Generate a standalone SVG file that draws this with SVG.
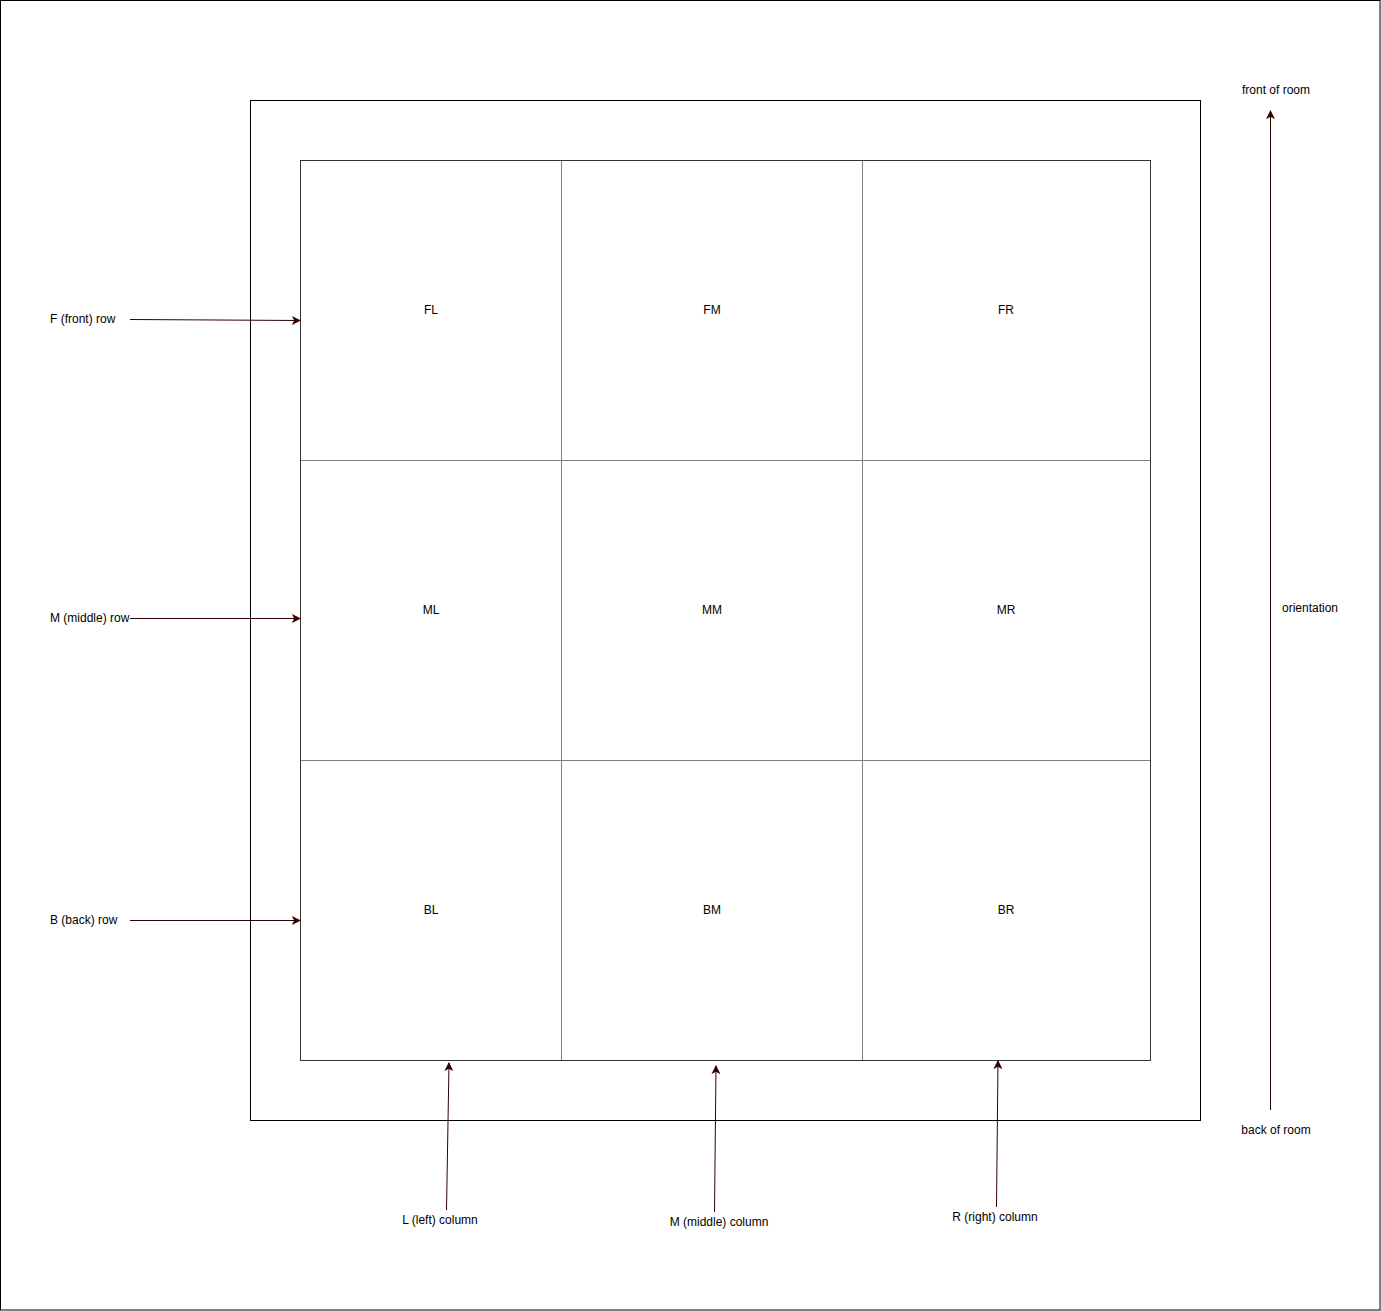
<svg xmlns="http://www.w3.org/2000/svg" width="1381" height="1311" viewBox="0 0 1381 1311">
<style>
text{font-family:"Liberation Sans",Arial,sans-serif;font-size:12px;fill:#000}
.c{text-anchor:middle}
.cell{fill:none;stroke:#808080;stroke-width:1}
.conn{stroke:#330000;stroke-width:1;fill:none;marker-end:url(#ah)}
</style>
<defs>
<marker id="ah" viewBox="0 0 10 10" refX="9" refY="5" markerWidth="9" markerHeight="9" markerUnits="userSpaceOnUse" orient="auto">
<path d="M0,0 L10,5 L0,10 L2.5,5 Z" fill="#330000"/>
</marker>
</defs>
<rect x="0" y="0" width="1381" height="1311" fill="#fff"/>
<rect id="frame" x="0.5" y="0.5" width="1379.5" height="1309.5" fill="none" stroke="#000"/>
<rect id="room" x="250.5" y="100.5" width="950" height="1020" fill="none" stroke="#000"/>
<g id="cells">
<g id="FL"><rect class="cell" x="300.5" y="160.5" width="261" height="300"/><text class="c" x="431" y="314">FL</text></g>
<g id="FM"><rect class="cell" x="561.5" y="160.5" width="301" height="300"/><text class="c" x="712" y="314">FM</text></g>
<g id="FR"><rect class="cell" x="862.5" y="160.5" width="288" height="300"/><text class="c" x="1006" y="314">FR</text></g>
<g id="ML"><rect class="cell" x="300.5" y="460.5" width="261" height="300"/><text class="c" x="431" y="614">ML</text></g>
<g id="MM"><rect class="cell" x="561.5" y="460.5" width="301" height="300"/><text class="c" x="712" y="614">MM</text></g>
<g id="MR"><rect class="cell" x="862.5" y="460.5" width="288" height="300"/><text class="c" x="1006" y="614">MR</text></g>
<g id="BL"><rect class="cell" x="300.5" y="760.5" width="261" height="300"/><text class="c" x="431" y="914">BL</text></g>
<g id="BM"><rect class="cell" x="561.5" y="760.5" width="301" height="300"/><text class="c" x="712" y="914">BM</text></g>
<g id="BR"><rect class="cell" x="862.5" y="760.5" width="288" height="300"/><text class="c" x="1006" y="914">BR</text></g>
</g>
<rect id="grid" x="300.5" y="160.5" width="850" height="900" fill="none" stroke="#333"/>
<g id="connectors">
<path class="conn" d="M130,319.5 L300,320.5"/>
<path class="conn" d="M130,618.5 L300,618.5"/>
<path class="conn" d="M130,920.5 L300,920.5"/>
<path class="conn" d="M446.5,1210 L449,1063"/>
<path class="conn" d="M714.5,1212 L716,1066"/>
<path class="conn" d="M996.5,1207 L998,1061"/>
<path class="conn" d="M1270.5,1110 L1270.5,111"/>
</g>
<g id="labels">
<text x="50" y="323">F (front) row</text>
<text x="50" y="622">M (middle) row</text>
<text x="50" y="924">B (back) row</text>
<text class="c" x="440" y="1224">L (left) column</text>
<text class="c" x="719" y="1226">M (middle) column</text>
<text class="c" x="995" y="1221">R (right) column</text>
<text class="c" x="1276" y="94">front of room</text>
<text class="c" x="1276" y="1134">back of room</text>
<text class="c" x="1310" y="612">orientation</text>
</g>
</svg>
